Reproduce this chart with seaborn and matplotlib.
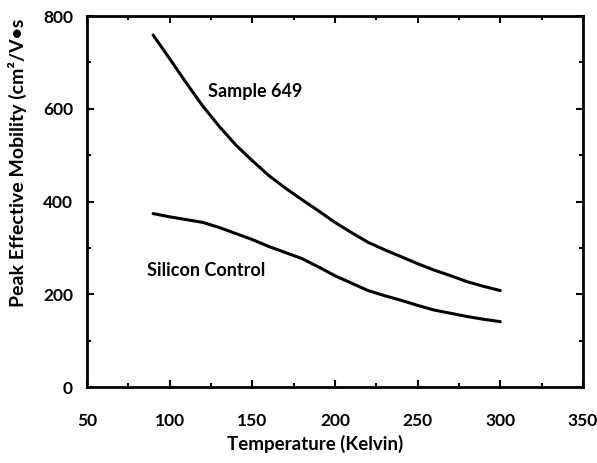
import matplotlib
matplotlib.use("Agg")
import matplotlib.pyplot as plt
import seaborn as sns
import pandas as pd
from matplotlib.ticker import MultipleLocator

# Data
temperature = [90, 100, 110, 120, 130, 140, 150, 160, 170, 180, 190, 200,
               210, 220, 230, 240, 250, 260, 270, 280, 290, 300]
sample_649 = [759, 708, 656, 606, 562, 522, 488, 456, 429, 404, 380, 355,
              333, 312, 296, 281, 266, 252, 240, 227, 217, 208]
silicon_control = [374, 367, 361, 355, 344, 331, 318, 303, 290, 277, 259, 240,
                   224, 208, 197, 187, 176, 166, 159, 152, 146, 141]
series_names = ["Sample 649", "Silicon Control"]
x_ticks = [50, 100, 150, 200, 250, 300, 350]
y_ticks = [0, 200, 400, 600, 800]

df = pd.DataFrame({
    "T": temperature * 2,
    "mu": sample_649 + silicon_control,
    "series": [series_names[0]] * len(temperature) + [series_names[1]] * len(temperature),
})

sns.set_theme(style="white")
plt.rcParams['font.family'] = ['Lato', 'DejaVu Sans']
plt.rcParams['font.weight'] = 'bold'

fig = plt.figure(figsize=(5.97, 4.63), dpi=100)
ax = fig.add_axes([0.1457, 0.1641, 0.8308, 0.8013])

sns.lineplot(data=df, x="T", y="mu", units="series", estimator=None,
             color="black", lw=2.2, ax=ax, legend=False)

ax.set_xlim(50, 350)
ax.set_ylim(0, 800)
ax.set_xticks(x_ticks)
ax.set_yticks(y_ticks)
ax.xaxis.set_minor_locator(MultipleLocator(25))
ax.yaxis.set_minor_locator(MultipleLocator(100))
ax.tick_params(which="both", direction="in", top=True, right=True,
               bottom=True, left=True, width=1.5, colors="black",
               labelsize=12.5, labelcolor="black")
ax.tick_params(which="major", length=5)
ax.tick_params(axis="x", which="major", pad=19)
ax.tick_params(axis="y", which="major", pad=10)
ax.tick_params(which="minor", length=3)
for s in ax.spines.values():
    s.set_linewidth(2)
    s.set_color("black")

ax.set_xlabel("Temperature (Kelvin)", fontsize=13.5, color="black", fontweight="bold")
ax.set_ylabel("Peak Effective Mobility (cm²/V•s", fontsize=14, color="black", fontweight="bold")
ax.xaxis.set_label_coords(0.46, -0.128)
ax.yaxis.set_label_coords(-0.121, 0.604)

ax.text(123, 638, series_names[0], fontsize=13, va="center", ha="left", color="black", fontweight="bold")
ax.text(86, 252, series_names[1], fontsize=13, va="center", ha="left", color="black", fontweight="bold")

fig.savefig("out.png", dpi=100)
